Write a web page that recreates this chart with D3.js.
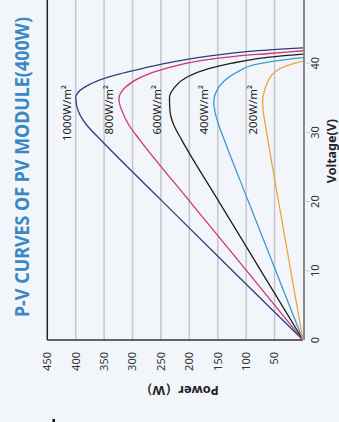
<!DOCTYPE html>
<html>
<head>
<meta charset="utf-8">
<script src="https://cdn.jsdelivr.net/npm/d3@7"></script>
<style>
    body { margin: 0; background: #f2f6fa; }
    text { font-family: "Noto Sans", sans-serif; }
</style>
</head>
<body>
<div id="container"></div>
<script>
const title = "P-V CURVES OF PV MODULE(400W)"
const voltageTicks = [0, 10, 20, 30, 40, 50]
const powerTicks = [50, 100, 150, 200, 250, 300, 350, 400, 450]
const irradiance = ["1000W/m²", "800W/m²", "600W/m²", "400W/m²", "200W/m²"]
const labelPower = [408, 334, 250, 167, 81]

const v1000 = [0, 10, 20, 29, 31, 33, 35, 36.5, 38, 39.3, 40.3, 41.1, 41.7, 42.2]
const p1000 = [0, 124, 247, 357, 380, 395, 400, 385, 343, 280, 222, 160, 95, 0]
const v800 = [0, 10, 20, 29, 31, 33, 34.8, 36.5, 38, 39.3, 40.3, 41, 41.4, 41.8]
const p800 = [0, 99, 199, 288, 306, 318, 324, 313, 285, 240, 185, 120, 60, 0]
const v600 = [0, 10, 20, 29, 31, 33, 35, 36.5, 38, 39.2, 40, 40.6, 41, 41.3]
const p600 = [0, 74, 148, 214, 227, 234, 235, 226, 204, 166, 125, 85, 45, 0]
const v400 = [0, 10, 20, 29, 31, 33, 34.5, 36, 37.5, 38.9, 39.8, 40.4, 40.8]
const p400 = [0, 48, 96, 139, 148, 155, 157, 152, 138, 112, 85, 40, 0]
const v200 = [0, 10, 20, 28, 31, 33, 34.5, 36, 37.5, 38.7, 39.6, 40.3]
const p200 = [0, 21.5, 43, 60, 66, 70, 71, 68, 61, 50, 30, 0]

const seriesV = [v1000, v800, v600, v400, v200]
const seriesP = [p1000, p800, p600, p400, p200]
const colors = ["#313d7c", "#d3337c", "#231f20", "#3b9bd5", "#eea53c"]

const W = 339, H = 422

const svg = d3.select('#container')
    .append('svg').attr('width', W).attr('height', H)

svg.append('rect').attr('width', W).attr('height', H).attr('fill', '#f2f6fa')

// whole chart is drawn upright, then turned a quarter turn
const g = svg.append('g').attr('transform', `translate(0,${H}) rotate(-90)`)

const x = d3.scaleLinear().domain([0, 50]).range([82, 428])
const y = d3.scaleLinear().domain([0, 450]).range([303, 47.3])

g.selectAll('.grid')
    .data(powerTicks.slice(0, -1))
    .enter()
    .append('line')
    .attr('class', 'grid')
    .attr('x1', x(0)).attr('x2', x(50) + 10)
    .attr('y1', d => y(d)).attr('y2', d => y(d))
    .attr('stroke', '#c3c7cb')
    .attr('stroke-width', 1.5)

g.append('line')
    .attr('x1', x(0)).attr('x2', x(50) + 10)
    .attr('y1', y(450)).attr('y2', y(450))
    .attr('stroke', '#222').attr('stroke-width', 1.5)

g.append('line')
    .attr('x1', x(0)).attr('x2', x(0))
    .attr('y1', y(450)).attr('y2', y(0))
    .attr('stroke', '#333').attr('stroke-width', 1.5)

g.append('line')
    .attr('x1', x(0)).attr('x2', x(50) + 10)
    .attr('y1', y(0) + 1).attr('y2', y(0) + 1)
    .attr('stroke', '#8a8a8a').attr('stroke-width', 2)

g.selectAll('.vtick')
    .data(voltageTicks.slice(1))
    .enter()
    .append('line')
    .attr('class', 'vtick')
    .attr('x1', d => x(d)).attr('x2', d => x(d))
    .attr('y1', y(0) + 3).attr('y2', y(0) + 7)
    .attr('stroke', '#c8c8c8').attr('stroke-width', 1)

g.selectAll('.vlab')
    .data(voltageTicks)
    .enter()
    .append('text')
    .attr('class', 'vlab')
    .attr('x', d => x(d))
    .attr('y', y(0) + 15.5)
    .attr('text-anchor', 'middle')
    .attr('font-size', 11)
    .attr('fill', '#333')
    .text(d => d)

g.selectAll('.plab')
    .data(powerTicks)
    .enter()
    .append('text')
    .attr('class', 'plab')
    .attr('x', x(0) - 12)
    .attr('y', d => y(d))
    .attr('dy', '0.35em')
    .attr('text-anchor', 'end')
    .attr('font-size', 11)
    .attr('fill', '#333')
    .text(d => d)

const line = d3.line()
    .x(d => x(d[0]))
    .y(d => y(d[1]))
    .curve(d3.curveMonotoneX)

g.selectAll('.pv')
    .data(seriesV.map((vs, i) => vs.map((v, j) => [v, seriesP[i][j]])))
    .enter()
    .append('path')
    .attr('class', 'pv')
    .attr('d', line)
    .attr('fill', 'none')
    .attr('stroke', (d, i) => colors[i])
    .attr('stroke-width', 1.3)

g.selectAll('.irr')
    .data(irradiance)
    .enter()
    .append('text')
    .attr('class', 'irr')
    .attr('x', x(36.85))
    .attr('y', (d, i) => y(labelPower[i]))
    .attr('text-anchor', 'end')
    .attr('font-size', 11.5)
    .attr('fill', '#222')
    .text(d => d)

g.append('text')
    .attr('x', x(27.3))
    .attr('y', 331.5)
    .attr('dy', '0.35em')
    .attr('text-anchor', 'middle')
    .attr('font-size', 12.5)
    .attr('font-weight', 'bold')
    .attr('fill', '#222')
    .text('Voltage(V)')

g.append('text')
    .attr('transform', `translate(31,${y(218)}) rotate(-90)`)
    .attr('dy', '0.35em')
    .attr('text-anchor', 'middle')
    .attr('font-size', 13)
    .attr('font-weight', 'bold')
    .attr('fill', '#222')
    .text('Power（W）')

g.append('text')
    .attr('x', x(25))
    .attr('y', 22)
    .attr('dy', '0.35em')
    .attr('text-anchor', 'middle')
    .attr('font-size', 19)
    .attr('font-weight', 'bold')
    .attr('fill', '#3b87c4')
    .attr('textLength', 300)
    .attr('lengthAdjust', 'spacingAndGlyphs')
    .text(title)

svg.append('rect').attr('x', 52.5).attr('y', 419).attr('width', 2.5).attr('height', 3).attr('fill', '#111')
</script>
</body>
</html>
